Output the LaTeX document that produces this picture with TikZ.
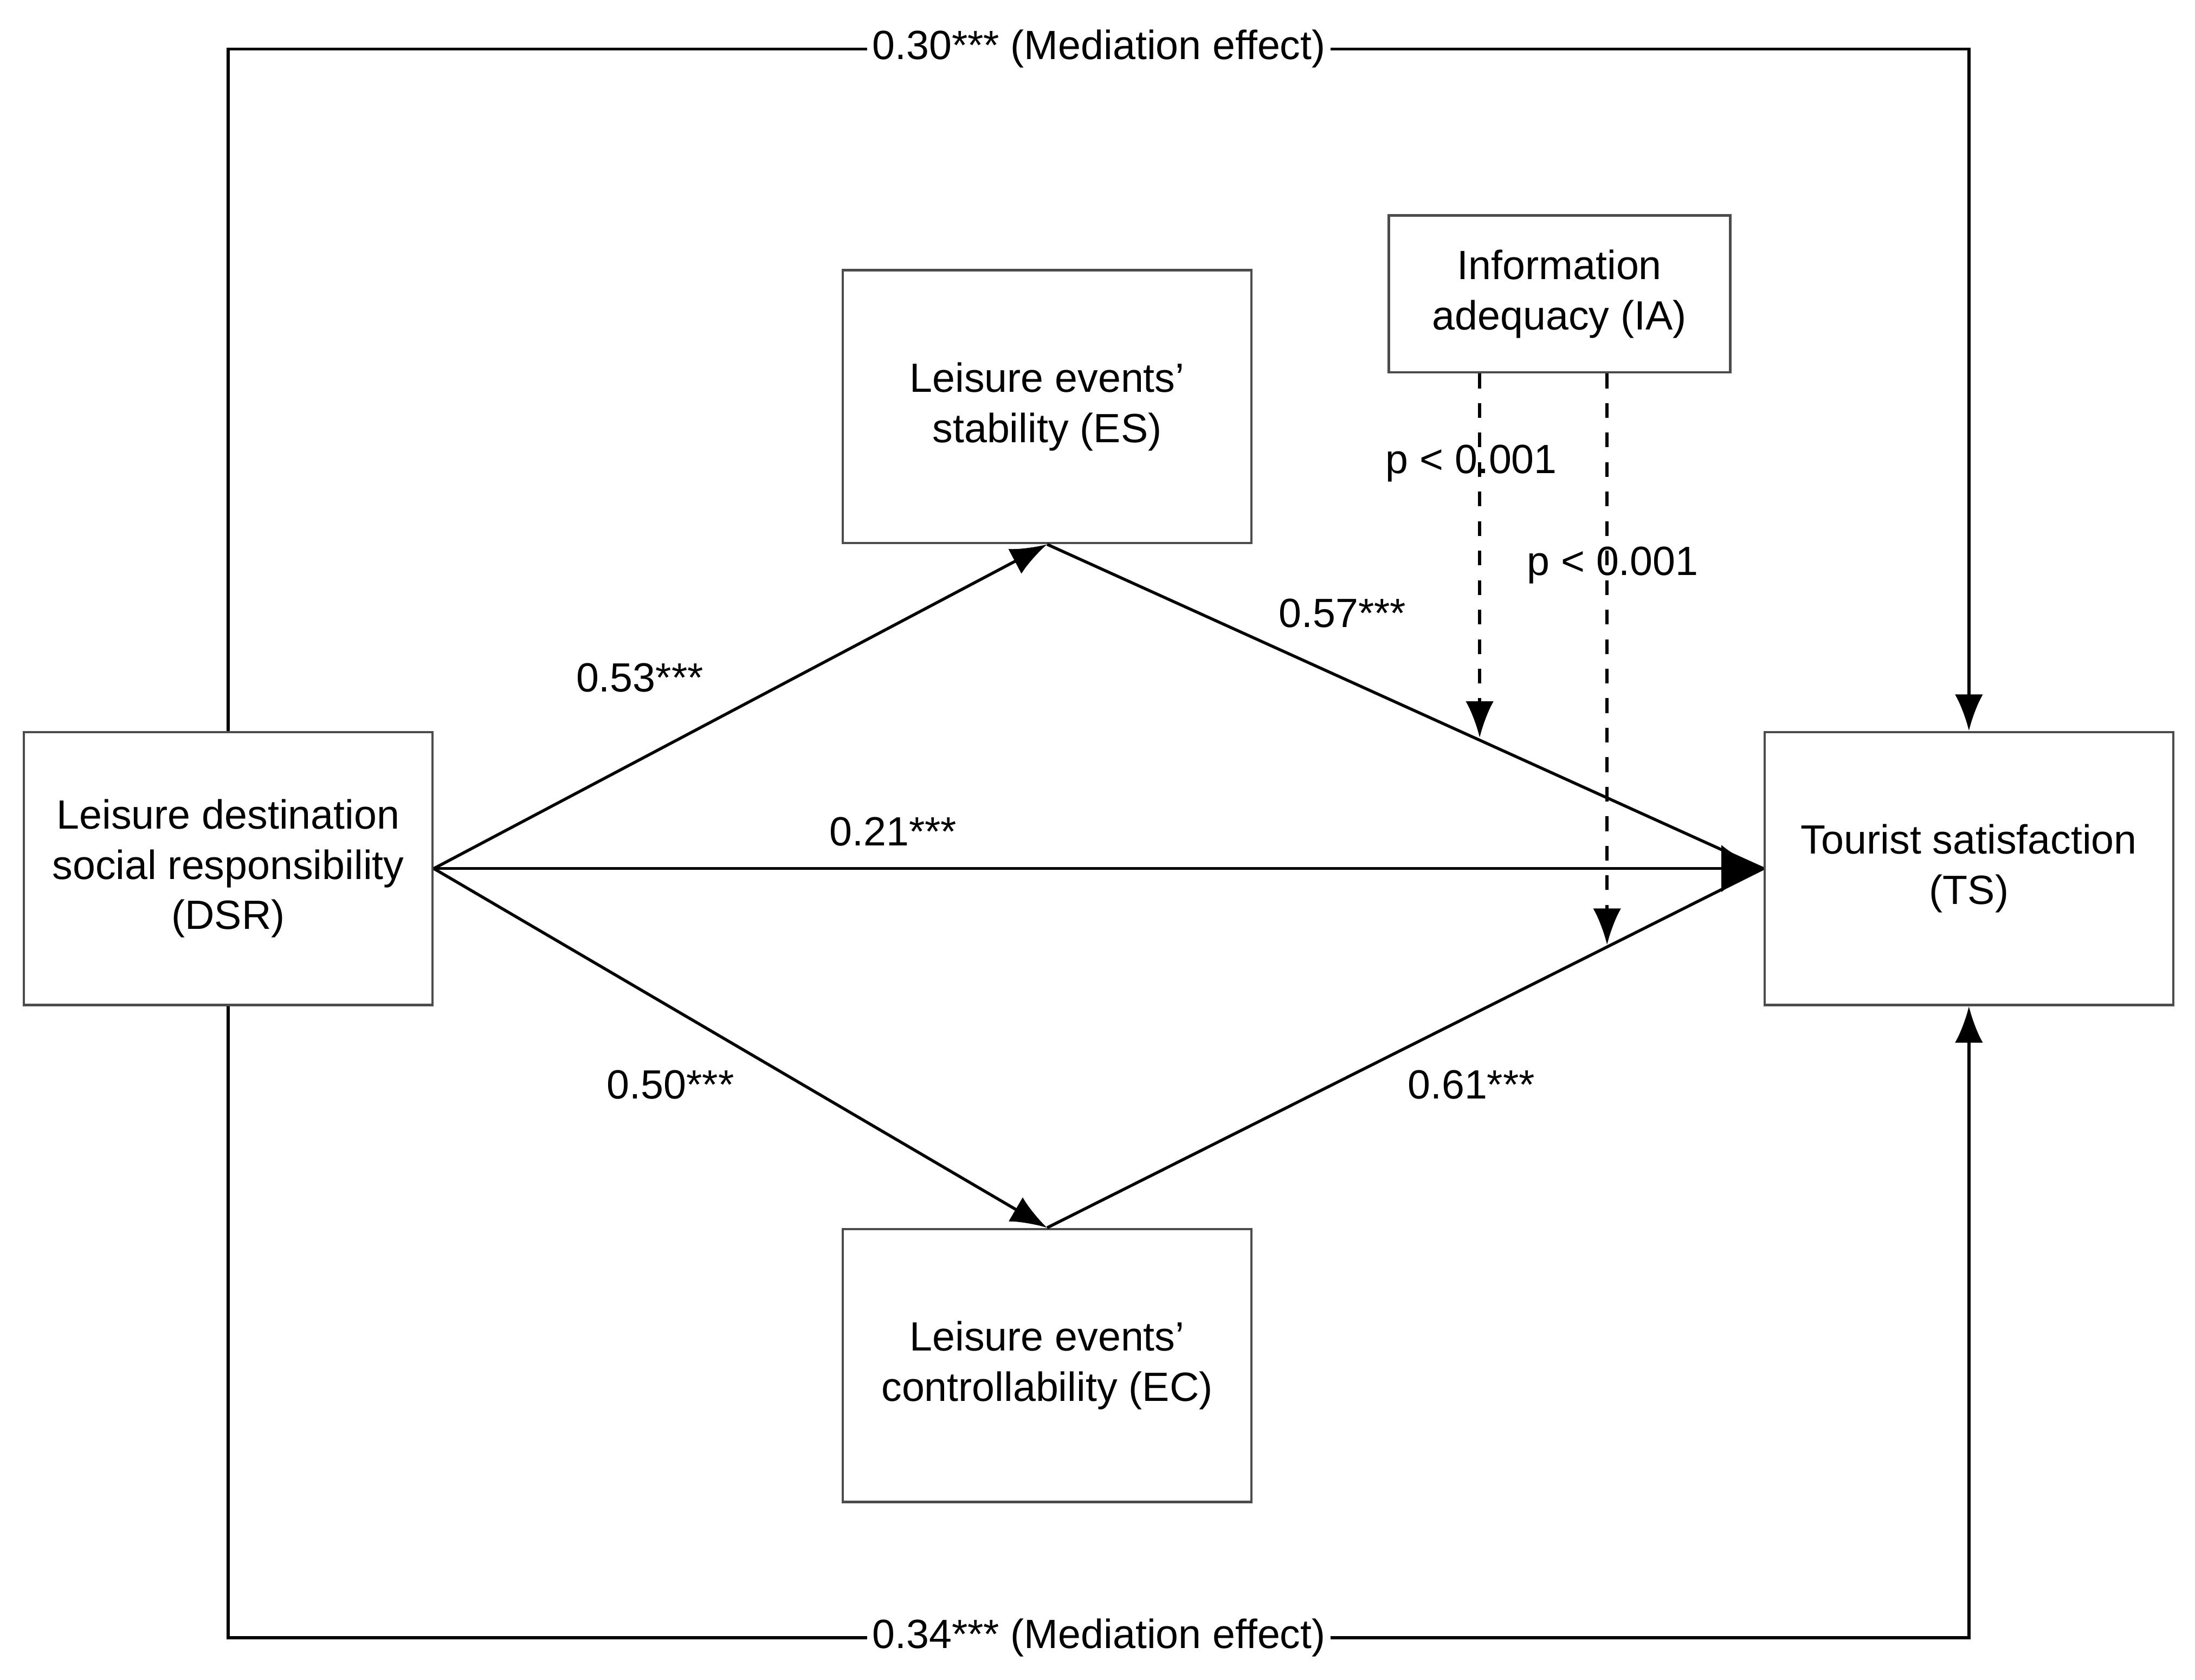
\documentclass[tikz,border=0pt]{standalone}
\usepackage{fontspec}
\setmainfont{Liberation Sans}
\usetikzlibrary{arrows.meta,positioning}

\begin{document}
\begin{tikzpicture}[x=0.1mm,y=-0.1mm,line width=0.6pt,
    font=\fontsize{8.3}{10.2}\selectfont,
    every node/.style={inner sep=1pt},
    box/.style={draw,black!70,line width=0.5pt,text=black,align=center,
        minimum width=29.2mm,minimum height=19.5mm},
    path/.style={-{Latex[length=2.6mm,width=2mm]}},
    moder/.style={dashed,-{Latex[length=2.6mm,width=2mm]}},
    coef/.style={fill=none}]

\useasboundingbox (0,0) rectangle (1568,1200);

% Constructs
\node[box] (dsr) at (163,620.5) {Leisure destination\\social responsibility\\(DSR)};
\node[box] (es) at (748,290.5) {Leisure events'\\stability (ES)};
\node[box] (ec) at (748,975.5) {Leisure events'\\controllability (EC)};
\node[box] (ts) at (1406.5,620.5) {Tourist satisfaction\\(TS)};
\node[box,minimum width=24.4mm,minimum height=11.2mm] (ia) at (1114,210)
    {Information\\adequacy (IA)};

% Paths
\draw[path] (dsr.east) -- (es.south);
\draw (es.south) -- (ts.west);
\draw[path] (dsr.east) -- (ec.north);
\draw (ec.north) -- (ts.west);
\draw[-{Latex[length=3mm,width=3.4mm]}] (dsr.east) -- (ts.west);

% Mediation effects
\draw[path] (dsr.north) |- (785,35) -| (ts.north);
\node[fill=white] (medtop) at (785,35) {0.30*** (Mediation effect)};
\draw[path] (dsr.south) |- (785,1170) -| (ts.south);
\node[fill=white] (medbot) at (785,1170) {0.34*** (Mediation effect)};

% Moderation
\coordinate (m1) at (1057,527);
\coordinate (m2) at (1148,675);
\draw[moder] (ia.south -| m1) -- (m1);
\draw[moder] (ia.south -| m2) -- (m2);

% Labels
\node at (457,484) {0.53***};
\node at (959,438) {0.57***};
\node at (638,594) {0.21***};
\node at (479,775) {0.50***};
\node at (1051,775) {0.61***};
\node at (1051,331) {p < 0.001};
\node at (1152,404) {p < 0.001};
\end{tikzpicture}
\end{document}
